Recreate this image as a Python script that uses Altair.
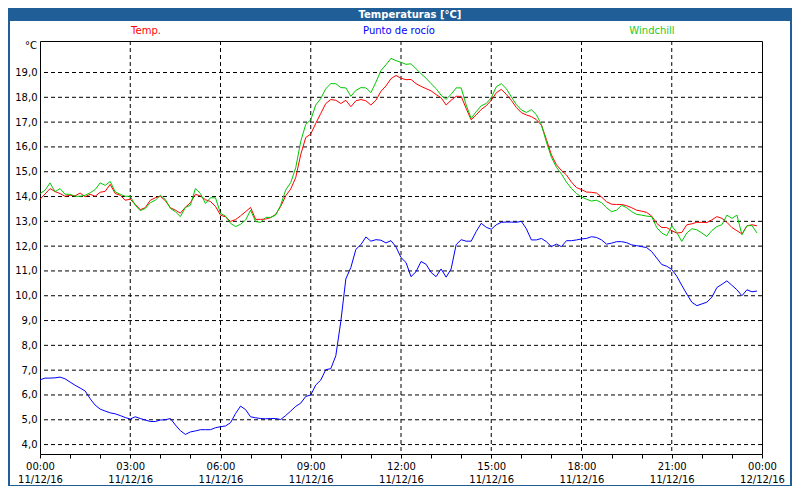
import altair as alt
import pandas as pd

# ---- data (10-minute samples, 11/12/16 00:00 .. 23:50) ----
hours = [i / 6 for i in range(144)]

temp = [
    13.89, 14.10, 14.32, 14.20, 14.12, 14.01, 14.05, 14.03, 14.14, 13.99, 14.09, 14.01,
    14.17, 14.21, 14.49, 14.12, 14.05, 13.85, 13.89, 13.68, 13.47, 13.55, 13.85, 13.95,
    14.01, 13.83, 13.55, 13.45, 13.33, 13.57, 13.75, 14.09, 14.02, 13.87, 13.80, 13.60,
    13.25, 13.18, 13.00, 13.07, 13.22, 13.39, 13.56, 13.08, 13.08, 13.09, 13.15, 13.28,
    13.60, 14.03, 14.30, 14.76, 15.69, 16.38, 16.52, 16.95, 17.35, 17.75, 17.91, 17.88,
    17.75, 17.88, 17.62, 17.86, 17.91, 17.86, 17.69, 17.88, 18.24, 18.46, 18.75, 18.88,
    18.77, 18.71, 18.72, 18.55, 18.44, 18.35, 18.26, 18.11, 17.98, 17.69, 17.88, 18.04,
    18.04, 17.55, 17.09, 17.29, 17.51, 17.66, 17.88, 18.18, 18.32, 18.12, 17.88, 17.59,
    17.38, 17.29, 17.22, 17.10, 16.88, 16.30, 15.68, 15.28, 15.05, 14.87, 14.58, 14.36,
    14.28, 14.18, 14.17, 14.14, 13.98, 13.79, 13.69, 13.68, 13.68, 13.63, 13.55, 13.45,
    13.41, 13.36, 13.21, 12.92, 12.75, 12.75, 12.62, 12.53, 12.55, 12.86, 12.90, 12.96,
    12.96, 12.95, 13.06, 13.19, 13.12, 12.96, 12.75, 12.62, 12.49, 12.82, 12.86, 12.82,
]

dew = [
    6.61, 6.68, 6.68, 6.69, 6.72, 6.65, 6.52, 6.39, 6.28, 6.16, 5.85, 5.59,
    5.43, 5.35, 5.28, 5.24, 5.17, 5.09, 5.03, 5.12, 5.05, 4.99, 4.93, 4.93,
    4.99, 5.00, 5.05, 4.79, 4.56, 4.41, 4.51, 4.55, 4.60, 4.60, 4.60, 4.68,
    4.72, 4.75, 4.88, 5.25, 5.55, 5.41, 5.12, 5.08, 5.05, 5.04, 5.05, 5.05,
    5.01, 5.17, 5.35, 5.54, 5.67, 5.94, 6.00, 6.40, 6.60, 7.02, 7.06, 7.58,
    8.97, 10.68, 11.14, 11.87, 12.06, 12.37, 12.20, 12.26, 12.24, 12.13, 12.22, 11.97,
    11.54, 11.34, 10.77, 10.97, 11.38, 11.27, 10.94, 10.77, 11.08, 10.75, 11.08, 12.06,
    12.26, 12.20, 12.20, 12.59, 12.92, 12.76, 12.68, 12.86, 12.96, 12.97, 12.97, 12.96,
    13.00, 12.70, 12.25, 12.25, 12.31, 12.18, 11.98, 12.08, 11.98, 12.22, 12.22, 12.25,
    12.29, 12.31, 12.38, 12.35, 12.25, 12.08, 12.12, 12.18, 12.18, 12.14, 12.05, 12.02,
    11.98, 11.94, 11.78, 11.52, 11.26, 11.19, 11.06, 10.79, 10.42, 10.07, 9.74, 9.60,
    9.67, 9.74, 9.94, 10.33, 10.46, 10.60, 10.42, 10.24, 10.00, 10.24, 10.16, 10.19,
]

wind = [
    14.12, 14.25, 14.55, 14.19, 14.32, 14.09, 14.09, 14.01, 14.01, 14.05, 14.15, 14.28,
    14.55, 14.45, 14.61, 14.19, 14.09, 14.01, 14.01, 13.65, 13.43, 13.52, 13.75, 13.85,
    14.05, 13.88, 13.52, 13.39, 13.19, 13.56, 13.65, 14.32, 14.12, 13.72, 13.95, 13.95,
    13.32, 13.21, 12.92, 12.79, 12.88, 13.05, 13.45, 12.99, 12.96, 13.16, 13.16, 13.25,
    13.65, 14.26, 14.56, 15.16, 16.22, 16.91, 17.09, 17.69, 17.95, 18.35, 18.55, 18.55,
    18.39, 18.38, 18.04, 18.28, 18.39, 18.38, 18.19, 18.61, 19.08, 19.31, 19.57, 19.48,
    19.41, 19.33, 19.35, 19.15, 18.95, 18.77, 18.55, 18.35, 18.08, 17.92, 18.12, 18.38,
    18.38, 17.69, 17.15, 17.42, 17.66, 17.75, 17.98, 18.42, 18.55, 18.35, 18.02, 17.71,
    17.49, 17.39, 17.50, 17.30, 16.90, 16.20, 15.58, 15.18, 14.91, 14.58, 14.32, 14.12,
    13.98, 13.89, 13.82, 13.85, 13.75, 13.55, 13.39, 13.45, 13.65, 13.55, 13.39, 13.28,
    13.25, 13.21, 13.19, 12.75, 12.53, 12.42, 12.82, 12.55, 12.19, 12.53, 12.70, 12.66,
    12.53, 12.39, 12.63, 12.79, 12.86, 13.25, 13.12, 13.25, 12.46, 12.82, 12.83, 12.53,
]

series_names = ["Temp.", "Punto de rocío", "Windchill"]
series_colors = ["#ff0000", "#0000ff", "#00c800"]
legend_text_colors = ["#ff0000", "#0000ff", "#22cc22"]
y_ticks = list(range(4, 20))
x_hours = list(range(0, 25))
x_grid = list(range(3, 24, 3))
title_text = "Temperaturas [°C]"
unit_text = "°C"

# ---- layout ----
W, H = 722, 413
PAD = {"left": 32, "top": 33, "right": 30, "bottom": 32}
FONT = "DejaVu Sans"
FRAME = "#1f5e96"

xscale = alt.Scale(domain=[0, 24], nice=False, zero=False)
yscale = alt.Scale(domain=[3.62, 20.27], nice=False, zero=False)

xaxis = alt.Axis(
    title=None, values=x_hours, grid=False, domain=False,
    ticks=True, tickSize=4, tickColor="black",
    labelExpr=("datum.value % 3 == 0 ? [(datum.value == 24 ? '00' : (datum.value < 10 ? '0' + datum.value : '' + datum.value)) + ':00', "
               "datum.value == 24 ? '12/12/16' : '11/12/16'] : ''"),
    labelFont=FONT, labelFontSize=10, labelColor="black", labelPadding=3,
    labelLineHeight=13, labelOverlap=False, labelFlush=False, labelBaseline="top",
)
yaxis = alt.Axis(
    title=None, values=y_ticks, grid=False, domain=False, ticks=False,
    labelExpr="replace(format(datum.value, '.1f'), '.', ',')",
    labelFont=FONT, labelFontSize=10, labelColor="black", labelPadding=3,
    labelOverlap=False, labelFlush=False,
)

one = pd.DataFrame({"a": [0]})

hgrid = alt.Chart(pd.DataFrame({"v": y_ticks})).mark_rule(
    color="black", strokeWidth=1, strokeDash=[4, 3]
).encode(y=alt.Y("v:Q", scale=yscale, axis=yaxis))

vgrid = alt.Chart(pd.DataFrame({"h": x_grid})).mark_rule(
    color="black", strokeWidth=1, strokeDash=[4, 3]
).encode(x=alt.X("h:Q", scale=xscale, axis=xaxis))

def series_layer(vals, color):
    d = pd.DataFrame({"h": hours, "v": vals})
    return alt.Chart(d).mark_line(color=color, strokeWidth=1).encode(
        x=alt.X("h:Q", scale=xscale, axis=xaxis),
        y=alt.Y("v:Q", scale=yscale, axis=yaxis),
    )

l_dew = series_layer(dew, series_colors[1])
l_temp = series_layer(temp, series_colors[0])
l_wind = series_layer(wind, series_colors[2])

# title bar
bar = alt.Chart(one).mark_rect(color=FRAME).encode(
    x=alt.value(-PAD["left"]), x2=alt.value(W + PAD["right"]),
    y=alt.value(-PAD["top"]), y2=alt.value(-PAD["top"] + 13),
)
title = alt.Chart(one).mark_text(
    font=FONT, fontSize=10, fontWeight="bold", color="white", align="center", baseline="middle"
).encode(x=alt.value(370), y=alt.value(-PAD["top"] + 6.5), text=alt.value(title_text))

# frame
frame_left = alt.Chart(one).mark_rect(color=FRAME).encode(
    x=alt.value(-PAD["left"]), x2=alt.value(-PAD["left"] + 2),
    y=alt.value(-PAD["top"]), y2=alt.value(H + PAD["bottom"]),
)
frame_right = alt.Chart(one).mark_rect(color=FRAME).encode(
    x=alt.value(W + PAD["right"] - 2), x2=alt.value(W + PAD["right"]),
    y=alt.value(-PAD["top"]), y2=alt.value(H + PAD["bottom"]),
)
frame_bottom = alt.Chart(one).mark_rect(color=FRAME).encode(
    x=alt.value(-PAD["left"]), x2=alt.value(W + PAD["right"]),
    y=alt.value(H + PAD["bottom"] - 1), y2=alt.value(H + PAD["bottom"]),
)

# series labels above the plot
legend_x = [106, 359, 612]
legend_layers = [
    alt.Chart(one).mark_text(font=FONT, fontSize=10, color=c, align="center", baseline="middle")
    .encode(x=alt.value(x), y=alt.value(-10), text=alt.value(n))
    for n, c, x in zip(series_names, legend_text_colors, legend_x)
]

unit = alt.Chart(one).mark_text(font=FONT, fontSize=10, color="black", align="right", baseline="middle").encode(
    x=alt.value(-3), y=alt.value(5), text=alt.value(unit_text)
)

chart = alt.layer(
    hgrid, vgrid, l_dew, l_temp, l_wind,
    bar, title, frame_left, frame_right, frame_bottom, unit, *legend_layers
).properties(
    width=W, height=H, autosize="none", padding=PAD, background="white"
).configure_view(stroke="black", strokeWidth=1)

chart.save("out.html", embed_options={"renderer": "svg", "actions": False})
